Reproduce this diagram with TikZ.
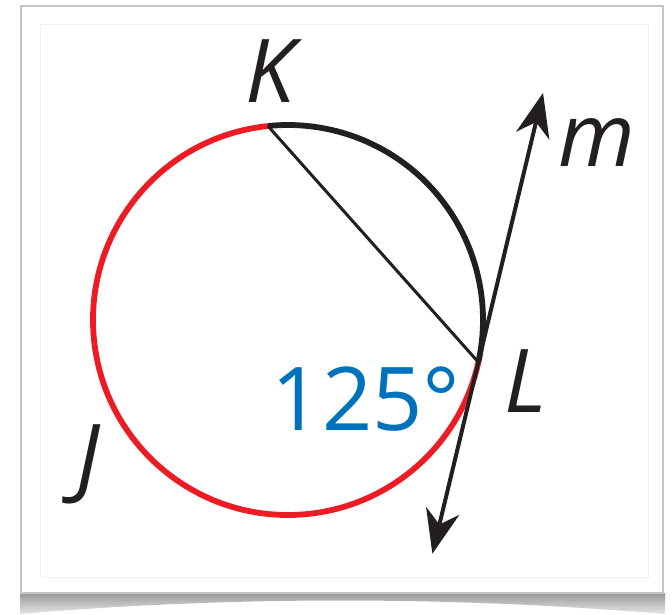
\documentclass[tikz,border=0pt]{standalone}
\usepackage{fontspec}
\setmainfont{Open Sans}
\usetikzlibrary{arrows.meta,calc}
\definecolor{arcred}{RGB}{237,28,36}
\definecolor{labelblue}{RGB}{0,114,188}
\definecolor{ink}{RGB}{35,31,32}
\begin{document}
\begin{tikzpicture}[x=1pt,y=1pt,
  lbl/.style={inner sep=0pt,anchor=base,text=ink,font=\fontsize{88}{90}\selectfont\itshape},
  arcline/.style={line width=5.8pt},
  tangentline/.style={line width=4pt,draw=ink,{Stealth[length=44pt,width=34pt,inset=14pt]}-{Stealth[length=44pt,width=34pt,inset=14pt]}}]
\useasboundingbox (0,0) rectangle (672,614);
\fill[white] (0,0) rectangle (672,614);
% page shadow
\shade[top color=gray!80,bottom color=gray!20] (20,21) -- (665,21) -- (665,0) .. controls (450,18) and (230,18) .. (20,0) -- cycle;
% page
\draw[fill=white,draw=gray!45,line width=1.8pt] (21,21) rectangle (663,608);
\draw[gray!12,line width=0.8pt] (40,37) rectangle (648,590);
% circle
\coordinate (O) at (288,294);
\coordinate (K) at ($(O)+(95.9:195)$);
\coordinate (L) at ($(O)+(-12.5:195)$);
\coordinate (mtop) at ($(L)+(76.5:277)$);
\coordinate (mbot) at ($(L)+(256.5:197)$);
\draw[arcline,arcred] (K) arc[start angle=95.9,end angle=347.5,radius=195];
\draw[arcline,ink] (L) arc[start angle=-12.5,end angle=95.9,radius=195];
\draw[ink,line width=3pt] (K) -- (L);
\draw[tangentline] (mbot) -- (mtop);
% labels
\node[lbl] (lK) at (270,511) {K};
\node[lbl] (lm) at (597,447) {m};
\node[lbl] (lL) at (526,202) {L};
\node[lbl] (lJ) at (88,127) {J};
\node[inner sep=0pt,anchor=base,text=labelblue,font=\fontsize{88}{90}\selectfont] (deg) at (366,184) {125°};
\end{tikzpicture}
\end{document}
